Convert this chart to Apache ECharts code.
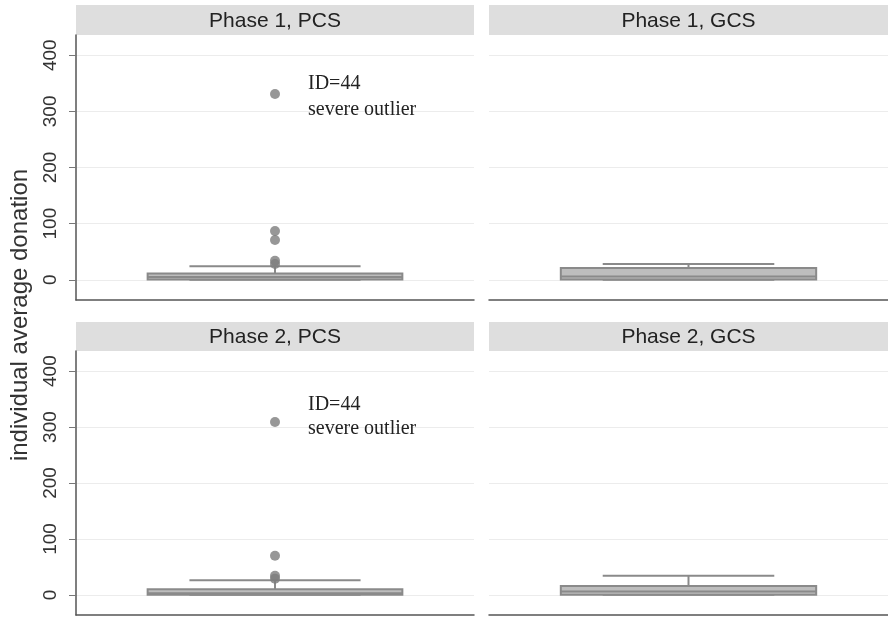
<!DOCTYPE html>
<html>
<head>
<meta charset="utf-8">
<script src="https://cdn.jsdelivr.net/npm/echarts@6/dist/echarts.min.js"></script>
<style>html,body{margin:0;padding:0;background:#fff}#c{width:888px;height:617px}</style>
</head>
<body>
<div id="c"></div>
<script>
// ---- data ----
const panelTitles = ['Phase 1, PCS', 'Phase 1, GCS', 'Phase 2, PCS', 'Phase 2, GCS'];
const lowerWhisker = [0, 0, 0, 0];
const q1 = [0.5, 0.5, 0, 0];
const median = [5, 6, 3, 6];
const q3 = [11, 21, 10, 16];
const upperWhisker = [24, 28, 26, 34];
const outliers = [[331, 87, 71, 34, 28], [], [309, 70, 34, 29], []];
const yTicks = [0, 100, 200, 300, 400];
const yTitle = 'individual average donation';
const annotPanels = [0, 2];
const annotLine1 = ['ID=44', 'ID=44'];
const annotLine2 = ['severe outlier', 'severe outlier'];
const annotY1 = [349, 340];
const annotY2 = [302, 297];

// ---- layout ----
const grids = [
  {left: 76, top: 35, width: 398, height: 265},
  {left: 489, top: 35, width: 399, height: 265},
  {left: 76, top: 351, width: 398, height: 264},
  {left: 489, top: 351, width: 399, height: 264}
];
const headerH = [30, 30, 29, 29];
const boxColor = '#bdbdbd', lineColor = '#8a8a8a', dotColor = '#7d7d7d';

const chart = echarts.init(document.getElementById('c'), null, {renderer: 'canvas'});

const xAxes = [], yAxes = [], series = [], graphics = [];
panelTitles.forEach((t, i) => {
  const isLeft = i % 2 === 0;
  xAxes.push({
    gridIndex: i, type: 'category', data: ['g'], boundaryGap: true,
    axisLine: {show: true, onZero: false, lineStyle: {color: '#555', width: 1.5}},
    axisTick: {show: false}, axisLabel: {show: false}, splitLine: {show: false}
  });
  yAxes.push({
    gridIndex: i, type: 'value', min: -36, max: 436,
    axisLine: {show: isLeft, onZero: false, lineStyle: {color: '#555', width: 1.5}},
    axisTick: {show: isLeft, length: 7, customValues: yTicks, lineStyle: {color: '#777'}},
    axisLabel: {show: isLeft, customValues: yTicks, rotate: 90, margin: 16,
      fontFamily: 'Liberation Sans, Arial, sans-serif', fontSize: 19, color: '#333'},
    splitLine: {show: true, lineStyle: {color: '#ececec', width: 1.2}}
  });
  // box + whiskers
  series.push({
    type: 'custom', xAxisIndex: i, yAxisIndex: i, z: 3,
    data: [[0, lowerWhisker[i], q1[i], median[i], q3[i], upperWhisker[i]]],
    renderItem: function (params, api) {
      const cx = api.coord([api.value(0), 0])[0];
      const band = api.size([1, 0])[0];
      const bw = band * 0.64, ww = band * 0.43;
      const yLw = api.coord([0, api.value(1)])[1];
      const yQ1 = api.coord([0, api.value(2)])[1];
      const yMed = api.coord([0, api.value(3)])[1];
      const yQ3 = api.coord([0, api.value(4)])[1];
      const yUw = api.coord([0, api.value(5)])[1];
      const ls = {stroke: lineColor, lineWidth: 2};
      return {type: 'group', children: [
        {type: 'line', shape: {x1: cx - ww / 2, y1: yLw, x2: cx + ww / 2, y2: yLw}, style: ls},
        {type: 'line', shape: {x1: cx, y1: yLw, x2: cx, y2: yQ1}, style: ls},
        {type: 'line', shape: {x1: cx, y1: yQ3, x2: cx, y2: yUw}, style: ls},
        {type: 'line', shape: {x1: cx - ww / 2, y1: yUw, x2: cx + ww / 2, y2: yUw}, style: ls},
        {type: 'rect', shape: {x: cx - bw / 2, y: yQ3, width: bw, height: yQ1 - yQ3},
          style: {fill: boxColor, stroke: lineColor, lineWidth: 2}},
        {type: 'line', shape: {x1: cx - bw / 2, y1: yMed, x2: cx + bw / 2, y2: yMed}, style: ls}
      ]};
    }
  });
  // outliers
  series.push({
    type: 'scatter', xAxisIndex: i, yAxisIndex: i, z: 4,
    symbol: 'circle', symbolSize: 10,
    itemStyle: {color: dotColor},
    data: outliers[i].map(v => [0, v])
  });
  // header strip
  const g = grids[i];
  graphics.push({
    type: 'rect', left: g.left, top: g.top - headerH[i], z: 0,
    shape: {width: g.width, height: headerH[i]},
    style: {fill: '#dedede'}
  });
  graphics.push({
    type: 'text', x: g.left + g.width / 2, y: g.top - headerH[i] / 2 + 1, z: 1,
    style: {text: t, textAlign: 'center', textVerticalAlign: 'middle',
      font: '21px "Liberation Sans", Arial, sans-serif', fill: '#222'}
  });
});

// annotations
annotPanels.forEach((p, k) => {
  series.push({
    type: 'custom', xAxisIndex: p, yAxisIndex: p, z: 5,
    data: [[0, annotY1[k], annotY2[k]]],
    renderItem: function (params, api) {
      const cx = api.coord([0, 0])[0];
      const y1 = api.coord([0, api.value(1)])[1];
      const y2 = api.coord([0, api.value(2)])[1];
      const f = '20px "Liberation Serif", "Times New Roman", serif';
      return {type: 'group', children: [
        {type: 'text', x: cx + 33, y: y1, style: {text: annotLine1[k], font: f, fill: '#222', textVerticalAlign: 'middle'}},
        {type: 'text', x: cx + 33, y: y2, style: {text: annotLine2[k], font: f, fill: '#222', textVerticalAlign: 'middle'}}
      ]};
    }
  });
});

graphics.push({
  type: 'text', x: 20, y: 315, rotation: Math.PI / 2,
  style: {text: yTitle, textAlign: 'center', textVerticalAlign: 'middle',
    font: '24px "Liberation Sans", Arial, sans-serif', fill: '#333'}
});

chart.setOption({
  animation: false,
  backgroundColor: '#fff',
  grid: grids,
  xAxis: xAxes,
  yAxis: yAxes,
  series: series,
  graphic: graphics
});
</script>
</body>
</html>
